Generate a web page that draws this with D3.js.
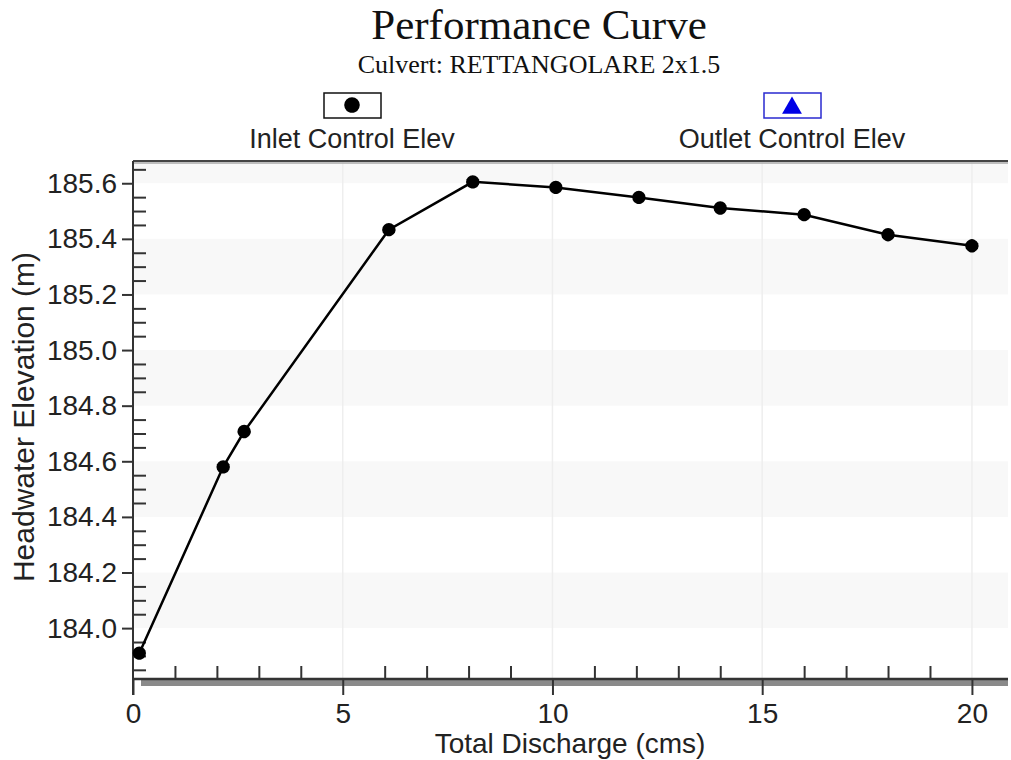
<!DOCTYPE html>
<html>
<head>
<meta charset="utf-8">
<script src="https://cdn.jsdelivr.net/npm/d3@7"></script>
<style>
  html, body { margin: 0; padding: 0; background: #fff; }
  svg { display: block; }
</style>
</head>
<body>
<div id="chart"></div>
<script>
// Inlet control curve
const discharge = [0.15, 2.15, 2.65, 6.1, 8.1, 10.08, 12.06, 14.0, 16.0, 18.0, 20.0];
const headwater = [183.91, 184.58, 184.707, 185.433, 185.605, 185.585, 185.549, 185.511, 185.487, 185.415, 185.375];

const xMajorTicks = [0, 5, 10, 15, 20];
const yMajorTicks = [184.0, 184.2, 184.4, 184.6, 184.8, 185.0, 185.2, 185.4, 185.6];

const titleText = "Performance Curve";
const subtitleText = "Culvert: RETTANGOLARE 2x1.5";
const legendLabels = ["Inlet Control Elev", "Outlet Control Elev"];
const xTitle = "Total Discharge (cms)";
const yTitle = "Headwater Elevation (m)";

const axisColor = '#333';
const bandColor = '#f8f8f8';
const gridColor = '#eeeeee';
const outletBlue = '#0000e6';

const W = 1011, H = 760;
const plot = { left: 133, right: 1008, top: 161, bottom: 679 };

const svg = d3.select("#chart").append("svg")
  .attr("width", W)
  .attr("height", H)
  .style("font-family", "'Liberation Sans', Arial, sans-serif");

const x = d3.scaleLinear().domain([0, 20.86]).range([plot.left, plot.right]);
const y = d3.scaleLinear().domain([183.817, 185.68]).range([plot.bottom, plot.top]);

// Alternating bands, every other 0.2 m
const bandStarts = yMajorTicks.filter((d, i) => i % 2 === 0);
svg.append("g").selectAll("rect")
  .data(bandStarts)
  .enter().append("rect")
  .attr("x", plot.left)
  .attr("width", plot.right - plot.left)
  .attr("y", d => Math.max(y(d + 0.2), plot.top))
  .attr("height", d => y(d) - Math.max(y(d + 0.2), plot.top))
  .attr("fill", bandColor);

// faint vertical grid at majors
svg.append("g").selectAll("line")
  .data(xMajorTicks.filter(d => d > 0))
  .enter().append("line")
  .attr("x1", d => x(d)).attr("x2", d => x(d))
  .attr("y1", plot.top).attr("y2", plot.bottom)
  .attr("stroke", gridColor)
  .attr("stroke-width", 1.5);

// Top border (dark + gray shadow)
svg.append("line")
  .attr("x1", plot.left).attr("x2", plot.right)
  .attr("y1", plot.top).attr("y2", plot.top)
  .attr("stroke", "#444").attr("stroke-width", 2);
svg.append("line")
  .attr("x1", plot.left).attr("x2", plot.right)
  .attr("y1", plot.top + 2).attr("y2", plot.top + 2)
  .attr("stroke", "#aaa").attr("stroke-width", 1.5);

// Gray band under the x axis
svg.append("rect")
  .attr("x", plot.left + 8)
  .attr("y", plot.bottom + 1)
  .attr("width", plot.right - plot.left - 8)
  .attr("height", 6)
  .attr("fill", "#8a8a8a");

// X axis: major ticks outside, minor ticks inside
const xAxis = d3.axisBottom(x)
  .tickValues(xMajorTicks)
  .tickSize(16)
  .tickPadding(8)
  .tickFormat(d3.format("d"));

const xAxisG = svg.append("g")
  .attr("transform", `translate(0,${plot.bottom})`)
  .call(xAxis);

xAxisG.select(".domain").remove();
xAxisG.selectAll(".tick line").attr("stroke", axisColor).attr("stroke-width", 2);
xAxisG.selectAll(".tick text")
  .attr("fill", "#222")
  .style("font-size", "28px")
  .style("font-family", "'Liberation Sans', Arial, sans-serif");

const xMinor = d3.range(1, 21).filter(d => d % 5 !== 0);
const xMinorG = svg.append("g")
  .attr("transform", `translate(0,${plot.bottom})`)
  .call(d3.axisTop(x).tickValues(xMinor).tickSize(13).tickFormat(""));
xMinorG.select(".domain").remove();
xMinorG.selectAll(".tick line").attr("stroke", axisColor).attr("stroke-width", 2);

// Y axis
const yAxis = d3.axisLeft(y)
  .tickValues(yMajorTicks)
  .tickSize(11)
  .tickPadding(5)
  .tickFormat(d3.format(".1f"));

const yAxisG = svg.append("g")
  .attr("transform", `translate(${plot.left},0)`)
  .call(yAxis);

yAxisG.select(".domain").remove();
yAxisG.selectAll(".tick line").attr("stroke", axisColor).attr("stroke-width", 2);
yAxisG.selectAll(".tick text")
  .attr("fill", "#222")
  .style("font-size", "28px")
  .style("font-family", "'Liberation Sans', Arial, sans-serif");

const yMinor = d3.range(0, 37).map(i => +(183.85 + i * 0.05).toFixed(2))
  .filter(d => d <= 185.66 && Math.round(d * 100) % 20 !== 0);
const yMinorG = svg.append("g")
  .attr("transform", `translate(${plot.left},0)`)
  .call(d3.axisRight(y).tickValues(yMinor).tickSize(13).tickFormat(""));
yMinorG.select(".domain").remove();
yMinorG.selectAll(".tick line").attr("stroke", axisColor).attr("stroke-width", 2);

// Axis lines
svg.append("line")
  .attr("x1", plot.left).attr("x2", plot.right)
  .attr("y1", plot.bottom).attr("y2", plot.bottom)
  .attr("stroke", axisColor).attr("stroke-width", 2.5);
svg.append("line")
  .attr("x1", plot.left).attr("x2", plot.left)
  .attr("y1", plot.top).attr("y2", plot.bottom + 16)
  .attr("stroke", axisColor).attr("stroke-width", 2);

// Data line + markers
const points = discharge.map((d, i) => ({ q: d, h: headwater[i] }));

svg.append("path")
  .datum(points)
  .attr("fill", "none")
  .attr("stroke", "#000")
  .attr("stroke-width", 2.5)
  .attr("d", d3.line().x(d => x(d.q)).y(d => y(d.h)));

svg.append("g").selectAll("path")
  .data(points)
  .enter().append("path")
  .attr("transform", d => `translate(${x(d.q)},${y(d.h)}) rotate(22.5)`)
  .attr("d", d3.symbol().type(d3.symbolCircle).size(140))
  .attr("fill", "#000");

// Titles
svg.append("text")
  .attr("x", 539).attr("y", 39)
  .attr("text-anchor", "middle")
  .style("font-family", "'Liberation Serif', 'Times New Roman', serif")
  .style("font-size", "43px")
  .attr("fill", "#111")
  .text(titleText);

svg.append("text")
  .attr("x", 539).attr("y", 73)
  .attr("text-anchor", "middle")
  .style("font-family", "'Liberation Serif', 'Times New Roman', serif")
  .style("font-size", "26px")
  .attr("fill", "#111")
  .text(subtitleText);

// Legend
const legendX = [352, 792];
const legend = svg.append("g").selectAll("g")
  .data(legendLabels)
  .enter().append("g")
  .attr("transform", (d, i) => `translate(${legendX[i]},0)`);

legend.append("rect")
  .attr("x", -28).attr("y", 93)
  .attr("width", 57).attr("height", 25)
  .attr("fill", "#fff")
  .attr("stroke", (d, i) => i === 0 ? "#111" : "#2a2ad0")
  .attr("stroke-width", 1.5);

legend.append("path")
  .attr("transform", (d, i) => i === 0 ? "translate(0,105) rotate(22.5)" : "translate(0,108)")
  .attr("d", (d, i) => d3.symbol().type(i === 0 ? d3.symbolCircle : d3.symbolTriangle).size(i === 0 ? 190 : 170)())
  .attr("fill", (d, i) => i === 0 ? "#000" : outletBlue);

legend.append("text")
  .attr("y", 148)
  .attr("text-anchor", "middle")
  .style("font-size", "27px")
  .attr("fill", "#222")
  .text(d => d);

// Axis titles
svg.append("text")
  .attr("x", 570).attr("y", 753)
  .attr("text-anchor", "middle")
  .style("font-size", "28px")
  .attr("fill", "#222")
  .text(xTitle);

svg.append("text")
  .attr("transform", "translate(34,417) rotate(-90)")
  .attr("text-anchor", "middle")
  .style("font-size", "30px")
  .attr("fill", "#222")
  .text(yTitle);
</script>
</body>
</html>
